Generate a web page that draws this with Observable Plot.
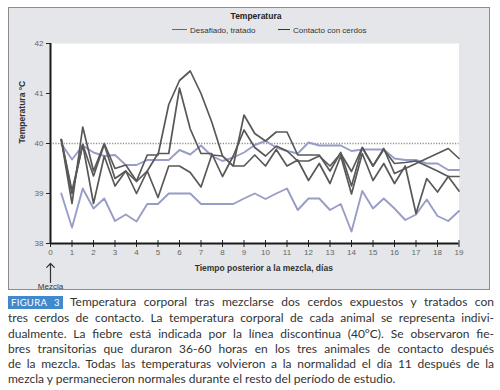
<!DOCTYPE html>
<html><head><meta charset="utf-8">
<script src="https://cdn.jsdelivr.net/npm/d3@7"></script>
<script src="https://cdn.jsdelivr.net/npm/@observablehq/plot@0.6"></script>
<style>
body{margin:0;background:#fff;width:500px;height:390px;overflow:hidden;position:relative;font-family:"Liberation Sans",Arial,sans-serif}
#panel{position:absolute;left:8px;top:7px;width:482px;height:283px;box-sizing:border-box;border:1px solid #8c8c8c;background:#e4e6e9}
#title{position:absolute;top:3px;left:247px;transform:translateX(-50%);font-size:8.5px;font-weight:bold;color:#222;white-space:nowrap}
.leg{position:absolute;top:18px;font-size:8px;color:#333;white-space:nowrap;line-height:10px}
.leg span.sw{display:inline-block;width:15px;height:0;border-top:1.6px solid;vertical-align:middle;margin-right:3px;position:relative;top:-1px}
#chart{position:absolute;left:0;top:30px}
#caption{position:absolute;left:8px;top:294px;width:486px;font-family:Lato,"Open Sans",sans-serif;font-size:12px;line-height:15.3px;color:#333}
#caption div{white-space:nowrap;text-align:justify;text-align-last:justify}
#caption div.last{text-align-last:left}
#fig{background:#4289cc;color:#fff;font-size:9.5px;padding:1px 3px;letter-spacing:0.3px}
</style></head>
<body>
<div id="panel">
  <div id="title"></div>
  <div class="leg" id="leg1"></div>
  <div class="leg" id="leg2"></div>
  <div id="chart"></div>
</div>
<div id="caption"></div>
<script>
// ---- data ----
const chartTitle = "Temperatura";
const yTitle = "Temperatura °C";
const xTitle = "Tiempo posterior a la mezcla, días";
const groupNames = ["Desafiado, tratado", "Contacto con cerdos"];
const groupColors = ["#989dc8", "#585858"];
const legendColors = ["#5b63a3", "#333333"];
const feverTemp = 40;
const mixDay = 0;
const mixLabel = "Mezcla";
const xTicks = [0,1,2,3,4,5,6,7,8,9,10,11,12,13,14,15,16,17,18,19];
const yTicks = [38,39,40,41,42];
const days = [0.5,1,1.5,2,2.5,3,3.5,4,4.5,5,5.5,6,6.5,7,7.5,8,8.5,9,9.5,10,10.5,11,11.5,12,12.5,13,13.5,14,14.5,15,15.5,16,16.5,17,17.5,18,18.5,19];
const tratadoA = [39.0,38.32,39.1,38.7,38.9,38.45,38.58,38.44,38.79,38.79,39.0,39.0,39.0,38.79,38.79,38.79,38.79,38.9,39.0,38.89,39.0,39.1,38.67,38.9,38.9,38.67,38.79,38.24,39.05,38.7,38.9,38.7,38.47,38.58,38.88,38.55,38.45,38.65];
const tratadoB = [40.0,39.68,39.96,39.82,39.75,39.77,39.57,39.57,39.67,39.67,39.67,39.87,39.78,39.96,39.75,39.65,39.72,39.82,39.97,40.05,39.92,39.85,39.8,40.02,39.96,39.96,39.96,39.85,39.88,39.88,39.88,39.7,39.67,39.67,39.6,39.6,39.47,39.47];
const contactoA = [40.08,38.8,40.33,39.45,40.0,39.5,39.57,39.25,39.77,39.77,40.78,41.26,41.45,41.0,40.43,39.75,39.55,40.57,40.2,40.05,40.23,40.23,39.77,39.77,39.77,39.45,39.82,39.15,39.92,39.55,39.9,39.4,39.5,39.6,39.7,39.8,39.9,39.7];
const contactoB = [40.08,39.05,39.98,38.8,39.75,39.15,39.45,39.0,39.45,38.92,39.55,39.55,39.42,39.13,39.77,39.75,39.55,39.55,39.77,39.55,39.88,39.55,39.67,39.26,39.6,39.2,39.75,38.99,39.8,39.26,39.6,39.2,39.55,38.6,39.3,39.03,39.34,39.05];
const contactoC = [40.08,39.0,39.98,39.35,39.98,39.3,39.45,39.24,39.45,39.8,39.8,41.11,40.29,39.8,39.8,39.34,39.75,40.27,39.92,39.75,39.95,39.85,39.65,39.65,39.75,39.55,39.8,39.44,39.92,39.55,39.88,39.6,39.62,39.65,39.55,39.45,39.34,39.34];
const captionFig = "FIGURA 3";
const captionLines = [
  "Temperatura corporal tras mezclarse dos cerdos expuestos y tratados con",
  "tres cerdos de contacto. La temperatura corporal de cada animal se representa indivi-",
  "dualmente. La fiebre está indicada por la línea discontinua (40°C). Se observaron fie-",
  "bres transitorias que duraron 36-60 horas en los tres animales de contacto después",
  "de la mezcla. Todas las temperaturas volvieron a la normalidad el día 11 después de la",
  "mezcla y permanecieron normales durante el resto del período de estudio."
];

// ---- build ----
const series = [
  {id:"tA", g:0, v:tratadoA},
  {id:"tB", g:0, v:tratadoB},
  {id:"cA", g:1, v:contactoA},
  {id:"cB", g:1, v:contactoB},
  {id:"cC", g:1, v:contactoC}
];
const rows = series.flatMap(s => s.v.map((t,i) => ({day: days[i], temp: t, id: s.id, g: s.g})));

document.getElementById("title").textContent = chartTitle;
const leg1 = document.getElementById("leg1");
leg1.style.left = "163px";
leg1.innerHTML = `<span class="sw" style="border-color:${legendColors[0]}"></span>${groupNames[0]}`;
const leg2 = document.getElementById("leg2");
leg2.style.left = "269px";
leg2.innerHTML = `<span class="sw" style="border-color:${legendColors[1]};width:12px"></span>${groupNames[1]}`;

const mix = [{day: mixDay, base: yTicks[0], label: mixLabel}];

const plot = Plot.plot({
  width: 480, height: 251,
  marginLeft: 41, marginRight: 30.5, marginTop: 5, marginBottom: 46,
  style: {background: "transparent", fontFamily: "Liberation Sans, Arial, sans-serif", fontSize: "8px", color: "#555", overflow: "visible"},
  x: {domain: [0, 19]},
  y: {domain: [38, 42]},
  marks: [
    Plot.frame({fill: "white", stroke: null}),
    Plot.ruleY([feverTemp], {stroke: "#8f8f8f", strokeDasharray: "1.2,1.5", strokeWidth: 1.3}),
    Plot.line(rows.filter(d => d.g === 0), {x: "day", y: "temp", z: "id", stroke: groupColors[0], strokeWidth: 1.9}),
    Plot.line(rows.filter(d => d.g === 1), {x: "day", y: "temp", z: "id", stroke: groupColors[1], strokeWidth: 1.7}),
    Plot.axisY({ticks: yTicks, tickSize: 4, tickPadding: 3, label: null, tickFormat: d => String(d), stroke: "#222", fill: "#666"}),
    Plot.axisX({ticks: xTicks, tickSize: 7, tickPadding: 2, dy: -3, label: null, tickFormat: d => String(d), stroke: "#222", fill: "#666"}),
    Plot.ruleX([0], {stroke: "#1a1a1a", strokeWidth: 2}),
    Plot.ruleY([38], {stroke: "#1a1a1a", strokeWidth: 2}),
    Plot.text([yTitle], {frameAnchor: "left", rotate: -90, dx: -28, fontWeight: "bold", fontSize: 8.5, fill: "#333"}),
    Plot.text([xTitle], {frameAnchor: "bottom", dx: 9, dy: 27, fontWeight: "bold", fontSize: 8.5, fill: "#333"}),
    Plot.vector(mix, {x: "day", y: "base", length: 19, rotate: 0, anchor: "start", dy: 39, shape: "arrow", stroke: "#333", strokeWidth: 1.2, clip: false}),
    Plot.text(mix, {x: "day", y: "base", text: "label", dy: 43, fontSize: 8, fill: "#333", clip: false})
  ]
});
document.getElementById("chart").appendChild(plot);

const cap = document.getElementById("caption");
captionLines.forEach((t, i) => {
  const d = document.createElement("div");
  if (i === captionLines.length - 1) d.className = "last";
  if (i === 0) {
    const s = document.createElement("span");
    s.id = "fig"; s.textContent = captionFig;
    d.appendChild(s);
    d.appendChild(document.createTextNode(" " + t));
  } else d.textContent = t;
  cap.appendChild(d);
});
</script>
</body></html>
